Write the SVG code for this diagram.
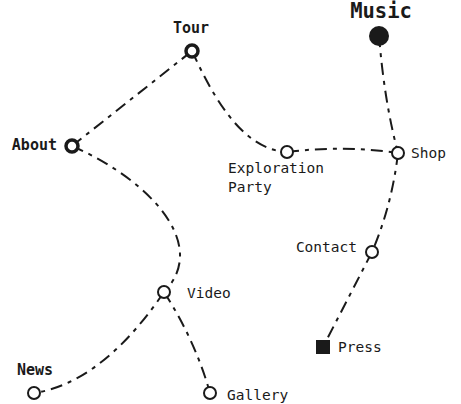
<svg xmlns="http://www.w3.org/2000/svg" width="461" height="404" viewBox="0 0 461 404">
<style>
.e{fill:none;stroke:#1a1a1a;stroke-width:2;stroke-dasharray:12,6,4,6}
.n{fill:#fff;stroke:#1a1a1a;stroke-width:2}
.t{fill:#fff;stroke:#1a1a1a;stroke-width:3.5}
text{font-family:"DejaVu Sans Mono","Liberation Mono",monospace;font-size:14.5px;fill:#1a1a1a}
.b{font-weight:bold;font-size:15px}
</style>
<rect width="461" height="404" fill="#fff"/>
<g id="edges">
<path class="e" d="M72,146 L192,51"/>
<path class="e" d="M192,51 C210,90 240,150 287,152"/>
<path class="e" d="M287,152 Q343,145 398,153"/>
<path class="e" d="M379,35 Q384,100 398,153"/>
<path class="e" d="M398,153 Q392,205 372,252"/>
<path class="e" d="M372,252 L323,347"/>
<path class="e" d="M72,146 C150,180 210,245 164,292"/>
<path class="e" d="M164,292 C135,335 90,385 34,393"/>
<path class="e" d="M164,292 Q195,340 210,393"/>
</g>
<g id="music"><circle cx="379" cy="36" r="10" fill="#1a1a1a"/><text x="381" y="18" text-anchor="middle" style="font-weight:bold;font-size:20.5px">Music</text></g>
<g id="tour"><circle class="t" cx="192" cy="51" r="6"/><text class="b" x="191" y="33" text-anchor="middle">Tour</text></g>
<g id="about"><circle class="t" cx="72" cy="146" r="6"/><text class="b" x="57" y="150" text-anchor="end">About</text></g>
<g id="exploration"><circle class="n" cx="287" cy="152" r="6"/><text x="228" y="173">Exploration</text><text x="228" y="192">Party</text></g>
<g id="shop"><circle class="n" cx="398" cy="153" r="6"/><text x="411" y="158">Shop</text></g>
<g id="contact"><circle class="n" cx="372" cy="252" r="6"/><text x="357" y="252" text-anchor="end">Contact</text></g>
<g id="press"><rect x="316" y="340" width="14" height="14" fill="#1a1a1a"/><text x="338" y="352">Press</text></g>
<g id="video"><circle class="n" cx="164" cy="292" r="6"/><text x="187" y="298">Video</text></g>
<g id="news"><circle class="n" cx="34" cy="393" r="6"/><text class="b" x="17" y="375">News</text></g>
<g id="gallery"><circle class="n" cx="210" cy="393" r="6"/><text x="227" y="400">Gallery</text></g>
</svg>
